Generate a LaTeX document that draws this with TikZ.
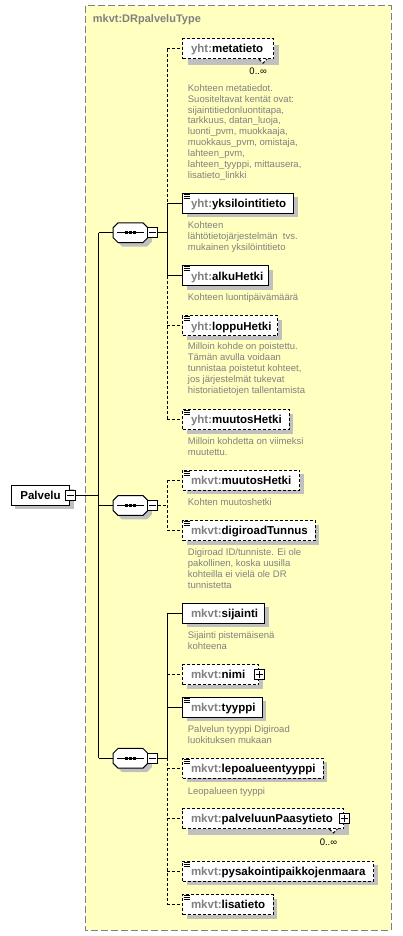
\documentclass[tikz,border=0pt]{standalone}
\usepackage{fontspec}
\setmainfont{Liberation Sans}
\usetikzlibrary{shadows}
\definecolor{bgyellow}{RGB}{255,255,192}
\definecolor{framegray}{RGB}{128,128,128}
\definecolor{shgray}{RGB}{192,192,192}
\definecolor{pfxgray}{RGB}{128,128,128}
\definecolor{docgray}{RGB}{128,128,128}
\newcommand\pfx[1]{\textcolor{pfxgray}{#1}}
\newcommand\doctext[1]{\begin{tabular}[t]{@{}l@{}}#1\end{tabular}}
\tikzset{
  lw/.style={line width=1pt},
  optline/.style={dash pattern=on 3pt off 2pt},
  frame/.style={draw=framegray, fill=bgyellow, line width=1pt, dash pattern=on 7pt off 3pt},
  elem/.style={draw, fill=white, line width=1pt, minimum height=20pt, inner sep=0pt, anchor=west,
    drop shadow={shadow xshift=4pt, shadow yshift=-4pt, fill=shgray, opacity=1}},
  repelem/.style={draw, fill=white, line width=1pt, minimum height=20pt, inner sep=0pt, anchor=west,
    drop shadow={shadow xshift=5pt, shadow yshift=-6pt, fill=shgray, opacity=1}},
  opt/.style={optline},
  nm/.style={anchor=base west, inner sep=0pt, font=\fontsize{11.5}{13}\selectfont\bfseries},
  title/.style={anchor=base west, inner sep=0pt, text=framegray, font=\fontsize{11}{13}\selectfont\bfseries},
  doc/.style={anchor=base west, inner sep=0pt, text=docgray, font=\fontsize{9.5}{10.9}\selectfont},
  occ/.style={anchor=base east, inner sep=0pt, font=\fontsize{9.5}{11}\selectfont},
  conn/.style={line width=1pt},
  optconn/.style={line width=1pt, optline},
  seqbox/.style={minimum width=34.4pt, minimum height=19.4pt, inner sep=0pt},
  pm/.style={draw, fill=white, line width=1pt, minimum size=10pt, inner sep=0pt},
}
\newcommand\minusbox[2]{%
  \node[pm] (#1) at (#2) {};
  \draw[lw] ([xshift=2pt]#1.west) -- ([xshift=-2pt]#1.east);}
\newcommand\plusbox[2]{%
  \node[pm] (#1) at (#2) {};
  \draw[lw] ([xshift=2pt]#1.west) -- ([xshift=-2pt]#1.east);
  \draw[lw] ([yshift=2pt]#1.south) -- ([yshift=-2pt]#1.north);}
\newcommand\docicon[1]{%
  \foreach \k in {1.5,3.5,5.5}
    \draw[line width=0.9pt] ([shift={(1.5,\k)}]#1.north west) -- ([shift={(7.5,\k)}]#1.north west);}
\newcommand\seqsym[2]{%
  \node[seqbox] (#1) at (#2) {};
  \fill[shgray] ([shift={(9,4)}]#1.north west) -- ([shift={(-1,4)}]#1.north east) -- ([shift={(4,9)}]#1.north east)
     -- ([shift={(4,-1)}]#1.south east) -- ([shift={(-1,4)}]#1.south east) -- ([shift={(9,4)}]#1.south west)
     -- ([shift={(4,-1)}]#1.south west) -- ([shift={(4,9)}]#1.north west) -- cycle;
  \draw[lw, fill=white] ([xshift=5pt]#1.north west) -- ([xshift=-5pt]#1.north east) -- ([yshift=-5pt]#1.north east)
     -- ([yshift=5pt]#1.south east) -- ([xshift=-5pt]#1.south east) -- ([xshift=5pt]#1.south west)
     -- ([yshift=5pt]#1.south west) -- ([yshift=-5pt]#1.north west) -- cycle;
  \draw[lw] ([xshift=4pt]#1.west) -- ([xshift=-3.5pt]#1.east);
  \foreach \d in {-4,0,4}
    \fill ([shift={(\d-1.5,-1.5)}]#1.center) rectangle ([shift={(\d+1.5,1.5)}]#1.center);}
\newcommand\notch[1]{%
  \draw[lw, optline, fill=white] ([xshift=-15pt]#1.south east) -- ([xshift=-11pt, yshift=-4pt]#1.south east) -- ([xshift=-7pt]#1.south east);}
\begin{document}
\begin{tikzpicture}[x=1pt,y=-1pt]
\useasboundingbox (0,0) rectangle (402,936);
\draw[frame] (85.5,5.7) rectangle (391,930);
\node[title] (title) at (92.7,23) {mkvt:DRpalveluType};

% root
\node[elem, minimum width=58.6pt] (palvelu) at (10.7,495.3) {};
\node[nm] (palvelu-t) at ([shift={(9.5,4.3)}]palvelu.west) {Palvelu};
\minusbox{palvelu-m}{palvelu.east}

% sequences
\seqsym{s1}{130.5,232.7}
\minusbox{s1m}{152.7,232.7}
\seqsym{s2}{130.5,505.5}
\minusbox{s2m}{152.7,505.5}
\seqsym{s3}{130.5,758.3}
\minusbox{s3m}{152.7,758.3}

% group 1
\node[repelem, opt, minimum width=91pt] (meta) at (182,48.7) {};
\notch{meta}
\node[nm] (meta-t) at ([shift={(8.8,4.3)}]meta.west) {\pfx{yht:}metatieto};
\node[occ] (meta-o) at ([shift={(-7,26.3)}]meta.east) {0..∞};
\node[doc] (meta-d) at (187.7,91.3) {\doctext{Kohteen metatiedot.\\Suositeltavat kentät ovat:\\sijaintitiedonluontitapa,\\tarkkuus, datan\_luoja,\\luonti\_pvm, muokkaaja,\\muokkaus\_pvm, omistaja,\\lahteen\_pvm,\\lahteen\_tyyppi, mittausera,\\lisatieto\_linkki}};

\node[elem, minimum width=111pt] (yksil) at (182,203.3) {};
\docicon{yksil}
\node[nm] (yksil-t) at ([shift={(8.8,4.3)}]yksil.west) {\pfx{yht:}yksilointitieto};
\node[doc] (yksil-d) at (187.7,228.7) {\doctext{Kohteen\\lähtötietojärjestelmän~ tvs.\\mukainen yksilöintitieto}};

\node[elem, minimum width=86.3pt] (alku) at (182,275.7) {};
\docicon{alku}
\node[nm] (alku-t) at ([shift={(8.8,4.3)}]alku.west) {\pfx{yht:}alkuHetki};
\node[doc] (alku-d) at (187.7,300.3) {Kohteen luontipäivämäärä};

\node[elem, opt, minimum width=95pt] (loppu) at (182,325.7) {};
\docicon{loppu}
\node[nm] (loppu-t) at ([shift={(8.8,4.3)}]loppu.west) {\pfx{yht:}loppuHetki};
\node[doc] (loppu-d) at (187.7,349.7) {\doctext{Milloin kohde on poistettu.\\Tämän avulla voidaan\\tunnistaa poistetut kohteet,\\jos järjestelmät tukevat\\historiatietojen tallentamista}};

\node[elem, opt, minimum width=106.7pt] (ymuut) at (182,419.5) {};
\docicon{ymuut}
\node[nm] (ymuut-t) at ([shift={(8.8,4.3)}]ymuut.west) {\pfx{yht:}muutosHetki};
\node[doc] (ymuut-d) at (187.7,444.7) {\doctext{Milloin kohdetta on viimeksi\\muutettu.}};

% group 2
\node[elem, opt, minimum width=117.3pt] (mmuut) at (182,480) {};
\docicon{mmuut}
\node[nm] (mmuut-t) at ([shift={(8.8,4.3)}]mmuut.west) {\pfx{mkvt:}muutosHetki};
\node[doc] (mmuut-d) at (187.7,505.7) {Kohten muutoshetki};

\node[elem, opt, minimum width=132.7pt] (digi) at (182,530.5) {};
\docicon{digi}
\node[nm] (digi-t) at ([shift={(8.8,4.3)}]digi.west) {\pfx{mkvt:}digiroadTunnus};
\node[doc] (digi-d) at (187.7,555.7) {\doctext{Digiroad ID/tunniste. Ei ole\\pakollinen, koska uusilla\\kohteilla ei vielä ole DR\\tunnistetta}};

% group 3
\node[elem, minimum width=82.3pt] (sij) at (182,613.3) {};
\node[nm] (sij-t) at ([shift={(8.8,4.3)}]sij.west) {\pfx{mkvt:}sijainti};
\node[doc] (sij-d) at (187.7,638.3) {\doctext{Sijainti pistemäisenä\\kohteena}};

\node[elem, opt, minimum width=76.3pt] (nimi) at (182,674.5) {};
\node[nm] (nimi-t) at ([shift={(8.8,4.3)}]nimi.west) {\pfx{mkvt:}nimi};
\plusbox{nimi-p}{nimi.east}

\node[elem, minimum width=79.7pt] (tyyppi) at (182,707.3) {};
\docicon{tyyppi}
\node[nm] (tyyppi-t) at ([shift={(8.8,4.3)}]tyyppi.west) {\pfx{mkvt:}tyyppi};
\node[doc] (tyyppi-d) at (187.7,732.3) {\doctext{Palvelun tyyppi Digiroad\\luokituksen mukaan}};

\node[elem, opt, minimum width=140.7pt] (lepo) at (182,768.3) {};
\docicon{lepo}
\node[nm] (lepo-t) at ([shift={(8.8,4.3)}]lepo.west) {\pfx{mkvt:}lepoalueentyyppi};
\node[doc] (lepo-d) at (187.7,794) {Leopalueen tyyppi};

\node[repelem, opt, minimum width=161.3pt] (palv) at (182,818.5) {};
\notch{palv}
\node[nm] (palv-t) at ([shift={(8.8,4.3)}]palv.west) {\pfx{mkvt:}palveluunPaasytieto};
\plusbox{palv-p}{palv.east}
\node[occ] (palv-o) at ([shift={(-7,26.5)}]palv.east) {0..∞};

\node[elem, opt, minimum width=191.3pt] (pysak) at (182,871) {};
\docicon{pysak}
\node[nm] (pysak-t) at ([shift={(8.8,4.3)}]pysak.west) {\pfx{mkvt:}pysakointipaikkojenmaara};

\node[elem, opt, minimum width=90.7pt] (lisa) at (182,904.5) {};
\docicon{lisa}
\node[nm] (lisa-t) at ([shift={(8.8,4.3)}]lisa.west) {\pfx{mkvt:}lisatieto};

% connectors
\coordinate (busA) at (98.5,0);
\coordinate (busB) at (167,0);
\draw[conn] (palvelu-m.east) -- (palvelu-m.east -| busA);
\draw[conn] (s1.west -| busA) -- (s3.west -| busA);
\draw[conn] (s1.west -| busA) -- (s1.west);
\draw[conn] (s2.west -| busA) -- (s2.west);
\draw[conn] (s3.west -| busA) -- (s3.west);

\draw[conn] (s1m.east) -- (s1m.east -| busB);
\draw[optconn] (meta.west -| busB) -- (yksil.west -| busB);
\draw[conn] (yksil.west -| busB) -- (alku.west -| busB);
\draw[optconn] (alku.west -| busB) -- (ymuut.west -| busB);
\draw[optconn] (meta.west -| busB) -- (meta.west);
\draw[conn] (yksil.west -| busB) -- (yksil.west);
\draw[conn] (alku.west -| busB) -- (alku.west);
\draw[optconn] (loppu.west -| busB) -- (loppu.west);
\draw[optconn] (ymuut.west -| busB) -- (ymuut.west);

\draw[optconn] (s2m.east) -- (s2m.east -| busB);
\draw[optconn] (mmuut.west -| busB) -- (digi.west -| busB);
\draw[optconn] (mmuut.west -| busB) -- (mmuut.west);
\draw[optconn] (digi.west -| busB) -- (digi.west);

\draw[conn] (s3m.east) -- (s3m.east -| busB);
\draw[conn] (sij.west -| busB) -- (s3m.east -| busB);
\draw[optconn] (s3m.east -| busB) -- (lisa.west -| busB);
\draw[conn] (sij.west -| busB) -- (sij.west);
\draw[optconn] (nimi.west -| busB) -- (nimi.west);
\draw[conn] (tyyppi.west -| busB) -- (tyyppi.west);
\draw[optconn] (lepo.west -| busB) -- (lepo.west);
\draw[optconn] (palv.west -| busB) -- (palv.west);
\draw[optconn] (pysak.west -| busB) -- (pysak.west);
\draw[optconn] (lisa.west -| busB) -- (lisa.west);
\end{tikzpicture}
\end{document}
